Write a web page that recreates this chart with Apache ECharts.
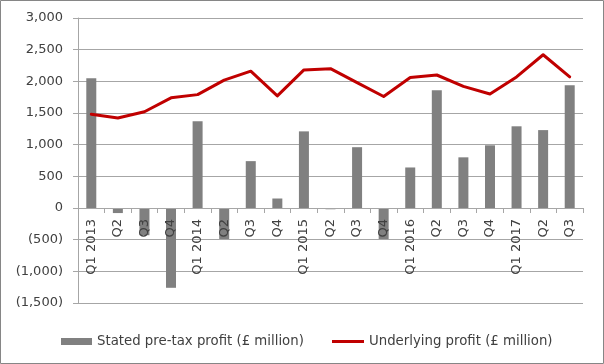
<!DOCTYPE html>
<html><head><meta charset="utf-8">
<script src="https://cdn.jsdelivr.net/npm/echarts@6/dist/echarts.min.js"></script>
<style>html,body{margin:0;padding:0;background:#fff}#c{width:604px;height:364px}</style>
</head><body><div id="c"></div>
<script>
var categories = ['Q1 2013','Q2','Q3','Q4','Q1 2014','Q2','Q3','Q4','Q1 2015','Q2','Q3','Q4','Q1 2016','Q2','Q3','Q4','Q1 2017','Q2','Q3'];
var statedProfit = [2050,-80,-430,-1260,1370,-490,740,150,1210,-20,960,-490,640,1860,800,990,1290,1230,1940];
var underlyingProfit = [1480,1420,1520,1740,1790,2020,2160,1770,2180,2200,1980,1760,2060,2100,1920,1800,2070,2420,2070];
var yTicks = {min:-1500, max:3000, interval:500};
var barName = 'Stated pre-tax profit (£ million)';
var lineName = 'Underlying profit (£ million)';

function fmt(v){
  var s = Math.abs(v).toString().replace(/\B(?=(\d{3})+(?!\d))/g, ',');
  return v < 0 ? '(' + s + ')' : s;
}
var font = 'DejaVu Sans';
var gridTop = 18, gridBottom = 61, H = 364;
var plotH = H - gridTop - gridBottom;
// offset to place the category axis at value 0
var zeroOffset = -plotH * (0 - yTicks.min) / (yTicks.max - yTicks.min);
var chart = echarts.init(document.getElementById('c'), null, {renderer:'canvas'});
chart.setOption({
  animation:false,
  textStyle:{fontFamily:font},
  graphic:[{type:'rect', shape:{x:0.5,y:0.5,width:603,height:363}, style:{fill:'none', stroke:'#868686', lineWidth:1}, silent:true, z:100}],
  grid:{left:78, right:21, top:gridTop, bottom:gridBottom, containLabel:false, outerBoundsMode:'none'},
  legend:[
    {left:56, top:330, itemWidth:31, itemHeight:7, data:[{name:barName, icon:'rect', itemStyle:{borderWidth:0}}], textStyle:{fontFamily:font, fontSize:13.3, color:'#404040'}},
    {left:327, top:330, itemWidth:32, itemHeight:3, data:[{name:lineName, icon:'rect', itemStyle:{color:'#C00000'}}], textStyle:{fontFamily:font, fontSize:13.3, color:'#404040'}}
  ],
  xAxis:{type:'category', data:categories, z:10, offset:zeroOffset,
    axisLine:{onZero:false, lineStyle:{color:'#A6A6A6', width:1}},
    axisTick:{show:true, length:5, alignWithLabel:false, lineStyle:{color:'#A6A6A6'}},
    axisLabel:{rotate:90, interval:0, fontFamily:font, fontSize:13, color:'#404040', margin:11},
    splitLine:{show:false}
  },
  yAxis:{type:'value', min:yTicks.min, max:yTicks.max, interval:yTicks.interval,
    axisLine:{show:true, lineStyle:{color:'#A6A6A6'}},
    axisTick:{show:true, length:5, lineStyle:{color:'#A6A6A6'}},
    axisLabel:{formatter:fmt, fontFamily:font, fontSize:13, color:'#404040', margin:15},
    splitLine:{lineStyle:{color:'#A6A6A6', width:1}}
  },
  series:[
    {name:barName, type:'bar', data:statedProfit, barWidth:10, itemStyle:{color:'#808080'}, z:2},
    {name:lineName, type:'line', data:underlyingProfit, symbol:'none', lineStyle:{color:'#C00000', width:3, join:'round', cap:'round'}, itemStyle:{color:'#C00000'}, z:5}
  ]
});
</script></body></html>
